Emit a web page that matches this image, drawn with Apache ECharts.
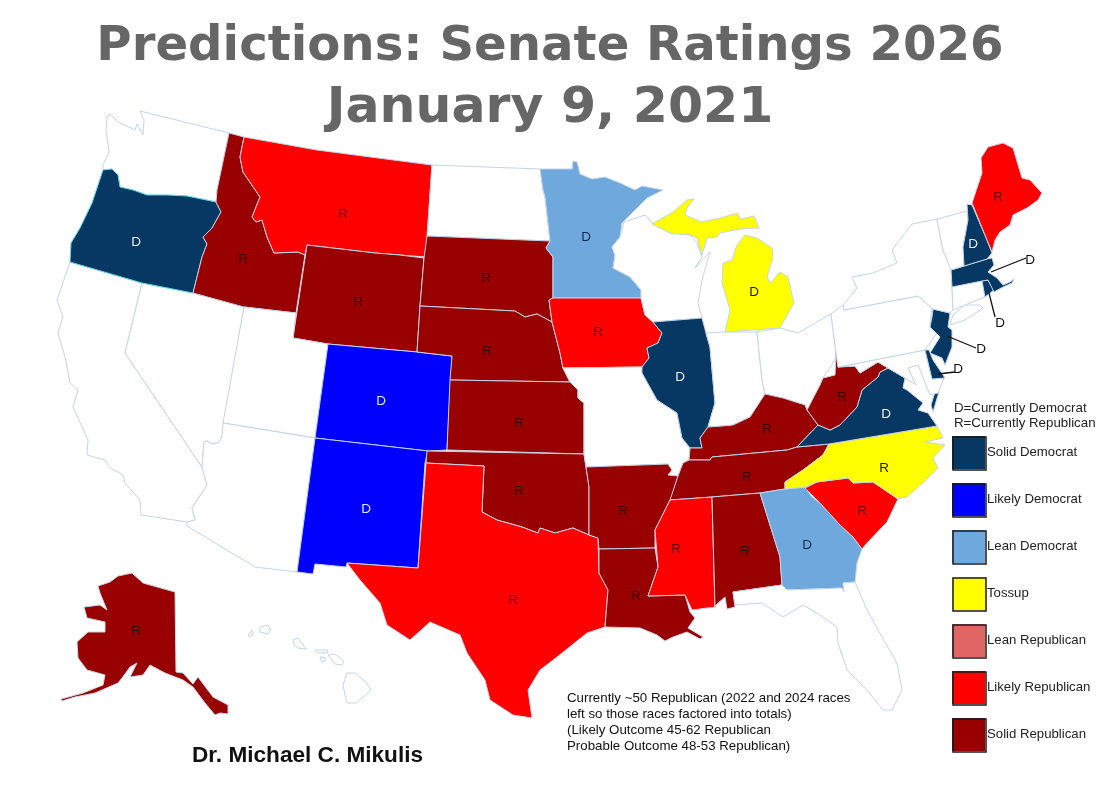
<!DOCTYPE html>
<html>
<head>
<meta charset="utf-8">
<title>Predictions: Senate Ratings 2026</title>
<script src="https://cdn.jsdelivr.net/npm/echarts@6/dist/echarts.min.js"></script>
<style>
    html, body { margin: 0; padding: 0; background: #fff; }
    #chart { width: 1100px; height: 785px; }
</style>
</head>
<body>
<div id="chart"></div>
<script>
// Ratings, in legend order
const ratingNames = ['Solid Democrat', 'Likely Democrat', 'Lean Democrat', 'Tossup', 'Lean Republican', 'Likely Republican', 'Solid Republican'];
const ratingColors = ['#073763', '#0000ff', '#6fa8dc', '#ffff00', '#e06666', '#ff0000', '#990000'];
const labelColors = ['#e6eef8', '#dfe6ff', '#0c2b52', '#1a1a00', '#400000', '#6a0000', '#3c0000'];

// States up in 2026 under each rating
const solidDemocrat = ['Oregon', 'Illinois', 'Virginia', 'New Hampshire', 'Massachusetts', 'Rhode Island', 'New Jersey', 'Delaware'];
const likelyDemocrat = ['Colorado', 'New Mexico'];
const leanDemocrat = ['Minnesota', 'Georgia'];
const tossup = ['Michigan', 'North Carolina'];
const leanRepublican = [];
const likelyRepublican = ['Montana', 'Iowa', 'Texas', 'Mississippi', 'South Carolina', 'Maine'];
const solidRepublican = ['Idaho', 'Wyoming', 'South Dakota', 'Nebraska', 'Kansas', 'Oklahoma', 'Arkansas', 'Louisiana', 'Alabama', 'Tennessee', 'Kentucky', 'West Virginia', 'Alaska'];
const ratingStates = [solidDemocrat, likelyDemocrat, leanDemocrat, tossup, leanRepublican, likelyRepublican, solidRepublican];

// Which party currently holds the seat (the letter on the map)
const currentlyDemocrat = ['Oregon', 'Illinois', 'Virginia', 'New Hampshire', 'Massachusetts', 'Rhode Island', 'New Jersey', 'Delaware', 'Colorado', 'New Mexico', 'Minnesota', 'Georgia', 'Michigan'];

const noteLines = ['Currently ~50 Republican (2022 and 2024 races', 'left so those races factored into totals)', '(Likely Outcome 45-62 Republican', 'Probable Outcome 48-53 Republican)'];
const keyLines = ['D=Currently Democrat', 'R=Currently Republican'];

// Leader lines for the small north-east states
const leaderLines = [
    [[1026, 258], [991, 272]],
    [[995, 317], [989, 293]],
    [[976, 348], [947, 336]],
    [[955, 372], [938, 374]]
];

// Hand traced state outlines (map geometry, picture coordinates)
const outlines = {
    'Washington': [[[107,117],[110,114],[118,122],[135,130],[137,124],[143,135],[144,120],[140,111],[229,133],[217,190],[216,202],[187,196],[167,195],[147,195],[133,190],[120,187],[118,175],[112,169],[103,170],[103,165],[109,152],[106,130]]],
    'California': [[[70,262],[142,283],[125,353],[202,467],[207,485],[192,508],[195,520],[187,522],[141,515],[140,500],[125,483],[123,475],[110,468],[105,460],[87,455],[88,440],[73,407],[78,390],[70,383],[65,357],[58,333],[63,317],[57,300]]],
    'Nevada': [[[142,283],[193,293],[244,307],[222,437],[218,443],[213,444],[207,441],[204,442],[202,467],[125,353]]],
    'Oregon': [[[103,170],[112,169],[118,175],[120,187],[133,190],[147,195],[167,195],[187,196],[216,202],[221,212],[212,228],[203,237],[207,244],[202,257],[193,293],[142,283],[70,262],[71,243],[80,228],[92,203]]],
    'Idaho': [[[229,133],[244,137],[240,157],[243,172],[260,197],[252,217],[256,222],[262,220],[267,237],[274,253],[298,252],[305,255],[296,313],[244,307],[193,293],[202,257],[207,244],[203,237],[212,228],[221,212],[216,202],[217,190]]],
    'Montana': [[[244,137],[317,150],[432,165],[426,257],[400,255],[375,253],[307,245],[305,255],[298,252],[274,253],[267,237],[262,220],[256,222],[252,217],[260,197],[243,172],[240,157]]],
    'Wyoming': [[[307,245],[375,253],[400,255],[424,258],[420,306],[417,352],[328,344],[293,338]]],
    'Utah': [[[244,307],[296,313],[293,338],[328,344],[315,438],[223,423]]],
    'Arizona': [[[223,423],[315,438],[297,572],[255,567],[187,526],[187,522],[195,520],[192,508],[207,485],[202,467],[204,442],[207,441],[213,444],[218,443],[222,437]]],
    'Colorado': [[[328,344],[417,352],[452,356],[447,450],[428,451],[315,438]]],
    'New Mexico': [[[315,438],[428,451],[425,463],[418,568],[347,563],[346,567],[315,564],[313,574],[297,572]]],
    'North Dakota': [[[432,165],[540,169],[543,190],[545,197],[550,241],[427,236]]],
    'South Dakota': [[[427,236],[550,241],[546,248],[553,257],[553,298],[549,300],[552,322],[537,314],[525,317],[515,311],[420,306],[424,258]]],
    'Nebraska': [[[420,306],[515,311],[525,317],[537,314],[552,322],[560,353],[563,368],[570,382],[450,380],[452,356],[417,352]]],
    'Kansas': [[[450,380],[570,382],[578,390],[578,398],[584,403],[584,454],[447,450]]],
    'Oklahoma': [[[427,451],[584,454],[586,467],[589,487],[589,535],[573,528],[555,533],[540,528],[538,533],[522,527],[497,520],[482,512],[484,466],[426,463]]],
    'Texas': [[[426,463],[484,466],[482,512],[497,520],[522,527],[538,533],[540,528],[555,533],[573,528],[589,535],[598,538],[599,573],[608,590],[605,627],[587,633],[557,657],[540,670],[528,690],[532,718],[513,715],[490,700],[485,680],[467,653],[460,635],[430,622],[410,640],[387,625],[380,603],[360,580],[347,563],[418,568]]],
    'Minnesota': [[[540,169],[572,169],[573,161],[577,162],[580,174],[592,179],[605,177],[620,183],[635,190],[642,186],[663,190],[647,198],[630,215],[622,223],[620,237],[612,247],[615,255],[613,268],[630,277],[641,290],[641,298],[553,298],[553,257],[546,248],[550,241],[545,197],[543,190]]],
    'Iowa': [[[549,300],[553,298],[641,298],[645,315],[653,322],[662,333],[658,343],[647,348],[649,358],[642,367],[563,368],[560,353],[552,322]]],
    'Missouri': [[[563,368],[642,367],[642,373],[657,400],[677,413],[682,438],[690,448],[689,460],[683,463],[678,476],[668,475],[672,470],[668,464],[586,467],[584,454],[584,403],[578,398],[578,390],[570,382]]],
    'Arkansas': [[[586,467],[668,464],[672,470],[668,475],[678,476],[672,497],[670,500],[665,510],[655,530],[655,548],[599,549],[598,538],[589,535],[589,487]]],
    'Louisiana': [[[599,549],[655,548],[658,567],[648,596],[685,595],[690,612],[695,618],[688,628],[703,637],[700,639],[687,632],[673,637],[665,641],[657,635],[640,628],[605,627],[608,590],[599,573]]],
    'Wisconsin': [[[624,222],[645,215],[652,223],[670,233],[690,235],[697,243],[702,257],[695,268],[710,252],[702,280],[698,303],[702,318],[653,322],[645,315],[641,298],[641,290],[630,277],[613,268],[615,255],[612,247],[620,237]]],
    'Illinois': [[[653,322],[702,318],[706,333],[710,347],[715,403],[708,427],[700,438],[702,448],[690,448],[682,438],[677,413],[657,400],[642,373],[642,367],[649,358],[647,348],[658,343],[662,333]]],
    'Michigan': [
        [[652,224],[673,212],[687,200],[694,199],[687,208],[685,215],[702,222],[720,218],[738,213],[740,219],[754,216],[759,228],[740,229],[720,233],[717,237],[707,238],[702,255],[697,238],[690,235],[670,233]],
        [[745,235],[757,238],[772,248],[773,258],[767,277],[770,283],[780,272],[788,277],[794,303],[780,328],[725,332],[730,310],[722,283],[723,263],[732,260],[737,245]]
    ],
    'Indiana': [[[706,333],[725,332],[757,332],[762,380],[765,394],[750,417],[733,425],[722,426],[708,427],[715,403],[710,347]]],
    'Ohio': [[[757,332],[780,328],[798,333],[817,322],[831,314],[836,352],[835,360],[823,378],[820,385],[807,410],[805,405],[783,398],[765,394],[762,380]]],
    'Kentucky': [[[689,460],[690,448],[702,448],[700,438],[708,427],[722,426],[733,425],[750,417],[765,394],[783,398],[805,405],[807,410],[818,425],[797,447],[787,450],[712,457],[710,460]]],
    'Tennessee': [[[689,460],[710,460],[712,457],[787,450],[797,447],[829,444],[823,455],[803,470],[785,482],[785,489],[760,493],[712,497],[670,500],[678,476],[683,463]]],
    'Mississippi': [[[670,500],[712,497],[715,607],[692,610],[685,595],[648,596],[658,567],[655,530],[665,510]]],
    'Alabama': [[[712,497],[760,493],[780,557],[782,585],[733,592],[735,607],[727,609],[725,597],[716,605],[715,607]]],
    'Georgia': [[[760,493],[785,489],[805,487],[812,497],[820,503],[840,525],[853,537],[862,549],[857,563],[855,582],[843,583],[844,592],[842,588],[787,590],[782,585],[780,557]]],
    'Florida': [[[733,592],[782,585],[787,590],[842,588],[844,592],[843,583],[855,582],[867,610],[882,637],[897,663],[902,690],[892,710],[883,710],[867,690],[847,670],[838,643],[837,627],[817,613],[803,605],[783,617],[762,603],[735,605]]],
    'South Carolina': [[[805,488],[817,482],[848,478],[853,483],[873,482],[898,499],[887,522],[867,543],[862,549],[853,537],[840,525],[820,503]]],
    'North Carolina': [[[829,444],[937,426],[943,438],[925,442],[945,445],[933,458],[938,468],[923,483],[907,497],[898,499],[873,482],[853,483],[848,478],[817,482],[805,487],[785,489],[785,482],[803,470],[823,455]]],
    'Virginia': [
        [[797,447],[818,425],[830,430],[840,425],[857,407],[862,390],[878,377],[880,372],[888,368],[905,378],[903,388],[907,390],[923,403],[918,410],[928,413],[937,426],[829,444]],
        [[935,392],[939,392],[935,405],[933,412],[931,405]]
    ],
    'West Virginia': [[[807,410],[820,385],[823,378],[835,375],[836,352],[838,367],[855,366],[860,373],[878,362],[888,368],[880,372],[878,377],[862,390],[857,407],[840,425],[830,430],[818,425]]],
    'Maryland': [[[838,367],[925,350],[932,379],[944,378],[938,393],[930,395],[922,375],[918,365],[908,368],[916,385],[905,378],[888,368],[878,362],[860,373],[855,366]]],
    'Delaware': [[[925,350],[929,350],[933,360],[945,378],[932,379]]],
    'Pennsylvania': [[[831,314],[843,305],[844,310],[918,296],[932,308],[930,323],[937,333],[925,350],[838,367],[836,352]]],
    'New Jersey': [[[933,309],[950,313],[948,327],[952,330],[952,347],[945,365],[942,358],[930,353],[940,337],[930,327],[932,317]]],
    'New York': [
        [[843,305],[857,288],[852,277],[873,273],[897,263],[892,250],[912,224],[937,219],[943,250],[952,270],[952,287],[953,310],[950,313],[933,309],[932,308],[918,296],[844,310]],
        [[953,315],[965,305],[980,305],[983,308],[965,320],[950,325]]
    ],
    'Connecticut': [[[952,287],[983,280],[985,297],[953,310]]],
    'Rhode Island': [[[982,281],[988,280],[994,290],[985,297]]],
    'Massachusetts': [[[951,270],[964,266],[987,259],[992,258],[994,265],[988,272],[997,278],[1003,285],[1010,282],[1014,279],[1012,283],[1003,287],[994,292],[988,280],[982,281],[952,287]]],
    'Vermont': [[[937,219],[967,211],[968,220],[963,247],[964,266],[951,270],[943,250]]],
    'New Hampshire': [[[967,204],[972,205],[987,240],[992,253],[987,259],[964,266],[963,247],[968,220]]],
    'Maine': [[[972,203],[982,173],[981,158],[988,147],[1003,143],[1013,148],[1022,178],[1030,180],[1042,193],[1038,200],[1027,208],[1013,215],[1010,225],[1000,232],[995,240],[992,252],[987,240]]],
    'Alaska': [[[98,586],[110,582],[118,576],[132,573],[143,583],[175,592],[176,672],[183,673],[193,684],[198,677],[213,697],[228,705],[228,714],[220,713],[215,715],[205,703],[193,687],[183,680],[165,673],[150,665],[143,675],[130,677],[137,663],[130,667],[122,678],[118,683],[95,693],[75,697],[62,701],[61,699],[83,693],[103,685],[105,675],[87,670],[78,658],[77,642],[88,632],[105,632],[105,622],[87,618],[84,607],[100,605],[107,610],[100,593]]],
    'Hawaii': [
        [[260,627],[268,625],[271,630],[268,634],[260,632]],
        [[248,635],[252,630],[253,634],[250,637]],
        [[293,640],[298,638],[303,645],[307,649],[298,648],[294,645]],
        [[315,650],[327,650],[328,653],[318,653]],
        [[320,657],[325,658],[325,661],[322,662]],
        [[328,655],[335,654],[344,661],[342,665],[335,664]],
        [[343,685],[347,673],[355,673],[366,682],[371,690],[356,703],[347,703],[345,695]]
    ]
};

// Where each state's letter sits
const letterSpots = {
    'Oregon': [136, 242], 'Idaho': [243, 259], 'Montana': [343, 214], 'Wyoming': [358, 302],
    'South Dakota': [486, 278], 'Nebraska': [487, 351], 'Kansas': [519, 423], 'Oklahoma': [519, 491],
    'Texas': [513, 600], 'Colorado': [381, 401], 'New Mexico': [366, 509], 'Minnesota': [586, 237],
    'Iowa': [598, 332], 'Illinois': [680, 377], 'Arkansas': [623, 511], 'Louisiana': [636, 596],
    'Mississippi': [676, 549], 'Alabama': [745, 551], 'Georgia': [807, 545], 'South Carolina': [862, 511],
    'North Carolina': [884, 468], 'Tennessee': [747, 477], 'Kentucky': [767, 429], 'West Virginia': [842, 397],
    'Virginia': [886, 414], 'Michigan': [754, 292], 'Maine': [998, 197], 'New Hampshire': [973, 244],
    'Massachusetts': [1030, 260], 'Rhode Island': [1000, 323], 'New Jersey': [981, 349], 'Delaware': [958, 369],
    'Alaska': [136, 631]
};
const outsideLabels = ['Massachusetts', 'Rhode Island', 'New Jersey', 'Delaware'];

const usaGeo = {
    type: 'FeatureCollection',
    features: Object.keys(outlines).map(name => ({
        type: 'Feature',
        properties: { name: name, cp: letterSpots[name] || outlines[name][0][0] },
        geometry: {
            type: 'MultiPolygon',
            coordinates: outlines[name].map(ring => [ring.concat([ring[0]])])
        }
    }))
};
echarts.registerMap('usa', usaGeo);

const stateData = [];
const regionStyles = [];
ratingStates.forEach((states, rating) => {
    states.forEach(name => {
        stateData.push({ name: name, value: rating });
        const region = {
            name: name,
            label: { color: outsideLabels.includes(name) ? '#111' : labelColors[rating] }
        };
        if (name === 'Oregon') {
            region.itemStyle = { borderColor: '#63d6e6' };
        }
        regionStyles.push(region);
    });
});

// Legend squares come from visualMap, these only add the black frames
const swatchFrames = ratingNames.map((name, i) => ({
    type: 'rect',
    left: 950.5,
    top: 434.5,
    z: 20,
    silent: true,
    y: i * 47,
    shape: { width: 33, height: 33 },
    style: { fill: null, stroke: '#1a1a1a', lineWidth: 1.5 }
}));
swatchFrames.forEach((frame, i) => {
    frame.top = 434.5 + i * 47;
    delete frame.y;
});

const textBlocks = noteLines.map((line, i) => ({
    type: 'text', left: 567, top: 691.5 + i * 16, silent: true,
    style: { text: line, fill: '#111', font: '13.3px "Liberation Sans", Arial, sans-serif' }
})).concat(keyLines.map((line, i) => ({
    type: 'text', left: 954, top: 402 + i * 15, silent: true,
    style: { text: line, fill: '#222', font: '13.3px "Liberation Sans", Arial, sans-serif' }
})));

const myChart = echarts.init(document.getElementById('chart'));
myChart.setOption({
    animation: false,
    backgroundColor: '#fff',
    title: [
        {
            text: 'Predictions: Senate Ratings 2026', left: 'center', top: 18,
            textStyle: { color: '#666', fontFamily: 'DejaVu Sans', fontWeight: 'bold', fontSize: 48.2 }
        },
        {
            text: 'January 9, 2021', left: 'center', top: 78,
            textStyle: { color: '#666', fontFamily: 'DejaVu Sans', fontWeight: 'bold', fontSize: 50.5 }
        },
        {
            text: 'Dr. Michael C. Mikulis', left: 187, top: 739,
            textStyle: { color: '#111', fontFamily: 'Liberation Sans', fontWeight: 'bold', fontSize: 22.6 }
        }
    ],
    geo: {
        map: 'usa',
        silent: true,
        roam: false,
        aspectScale: 1,
        projection: {
            project: point => point,
            unproject: point => point
        },
        boundingCoords: [[0, 0], [1100, 785]],
        left: 0,
        top: 0,
        width: 1100,
        height: 785,
        itemStyle: { areaColor: '#fff', borderColor: '#c4d5e6', borderWidth: 1 },
        label: {
            show: true,
            fontFamily: 'Liberation Sans',
            fontSize: 13.5,
            formatter: params => (ratingStates.some(s => s.includes(params.name))
                ? (currentlyDemocrat.includes(params.name) ? 'D' : 'R') : '')
        },
        regions: regionStyles
    },
    visualMap: {
        type: 'piecewise',
        seriesIndex: 0,
        left: 952,
        top: 436,
        padding: 0,
        orient: 'vertical',
        inverse: true,
        align: 'left',
        itemSymbol: 'rect',
        itemWidth: 33,
        itemHeight: 33,
        itemGap: 14,
        textGap: 2,
        selectedMode: false,
        hoverLink: false,
        textStyle: { color: '#222', fontFamily: 'Liberation Sans', fontSize: 13.2 },
        pieces: ratingNames.map((name, i) => ({ value: i, label: name, color: ratingColors[i] }))
    },
    series: [
        {
            type: 'map',
            geoIndex: 0,
            data: stateData
        },
        {
            type: 'lines',
            coordinateSystem: 'geo',
            silent: true,
            symbol: 'none',
            lineStyle: { color: '#111', width: 1.3, opacity: 1 },
            data: leaderLines.map(pair => ({ coords: pair }))
        }
    ],
    graphic: swatchFrames.concat(textBlocks)
});
</script>
</body>
</html>
